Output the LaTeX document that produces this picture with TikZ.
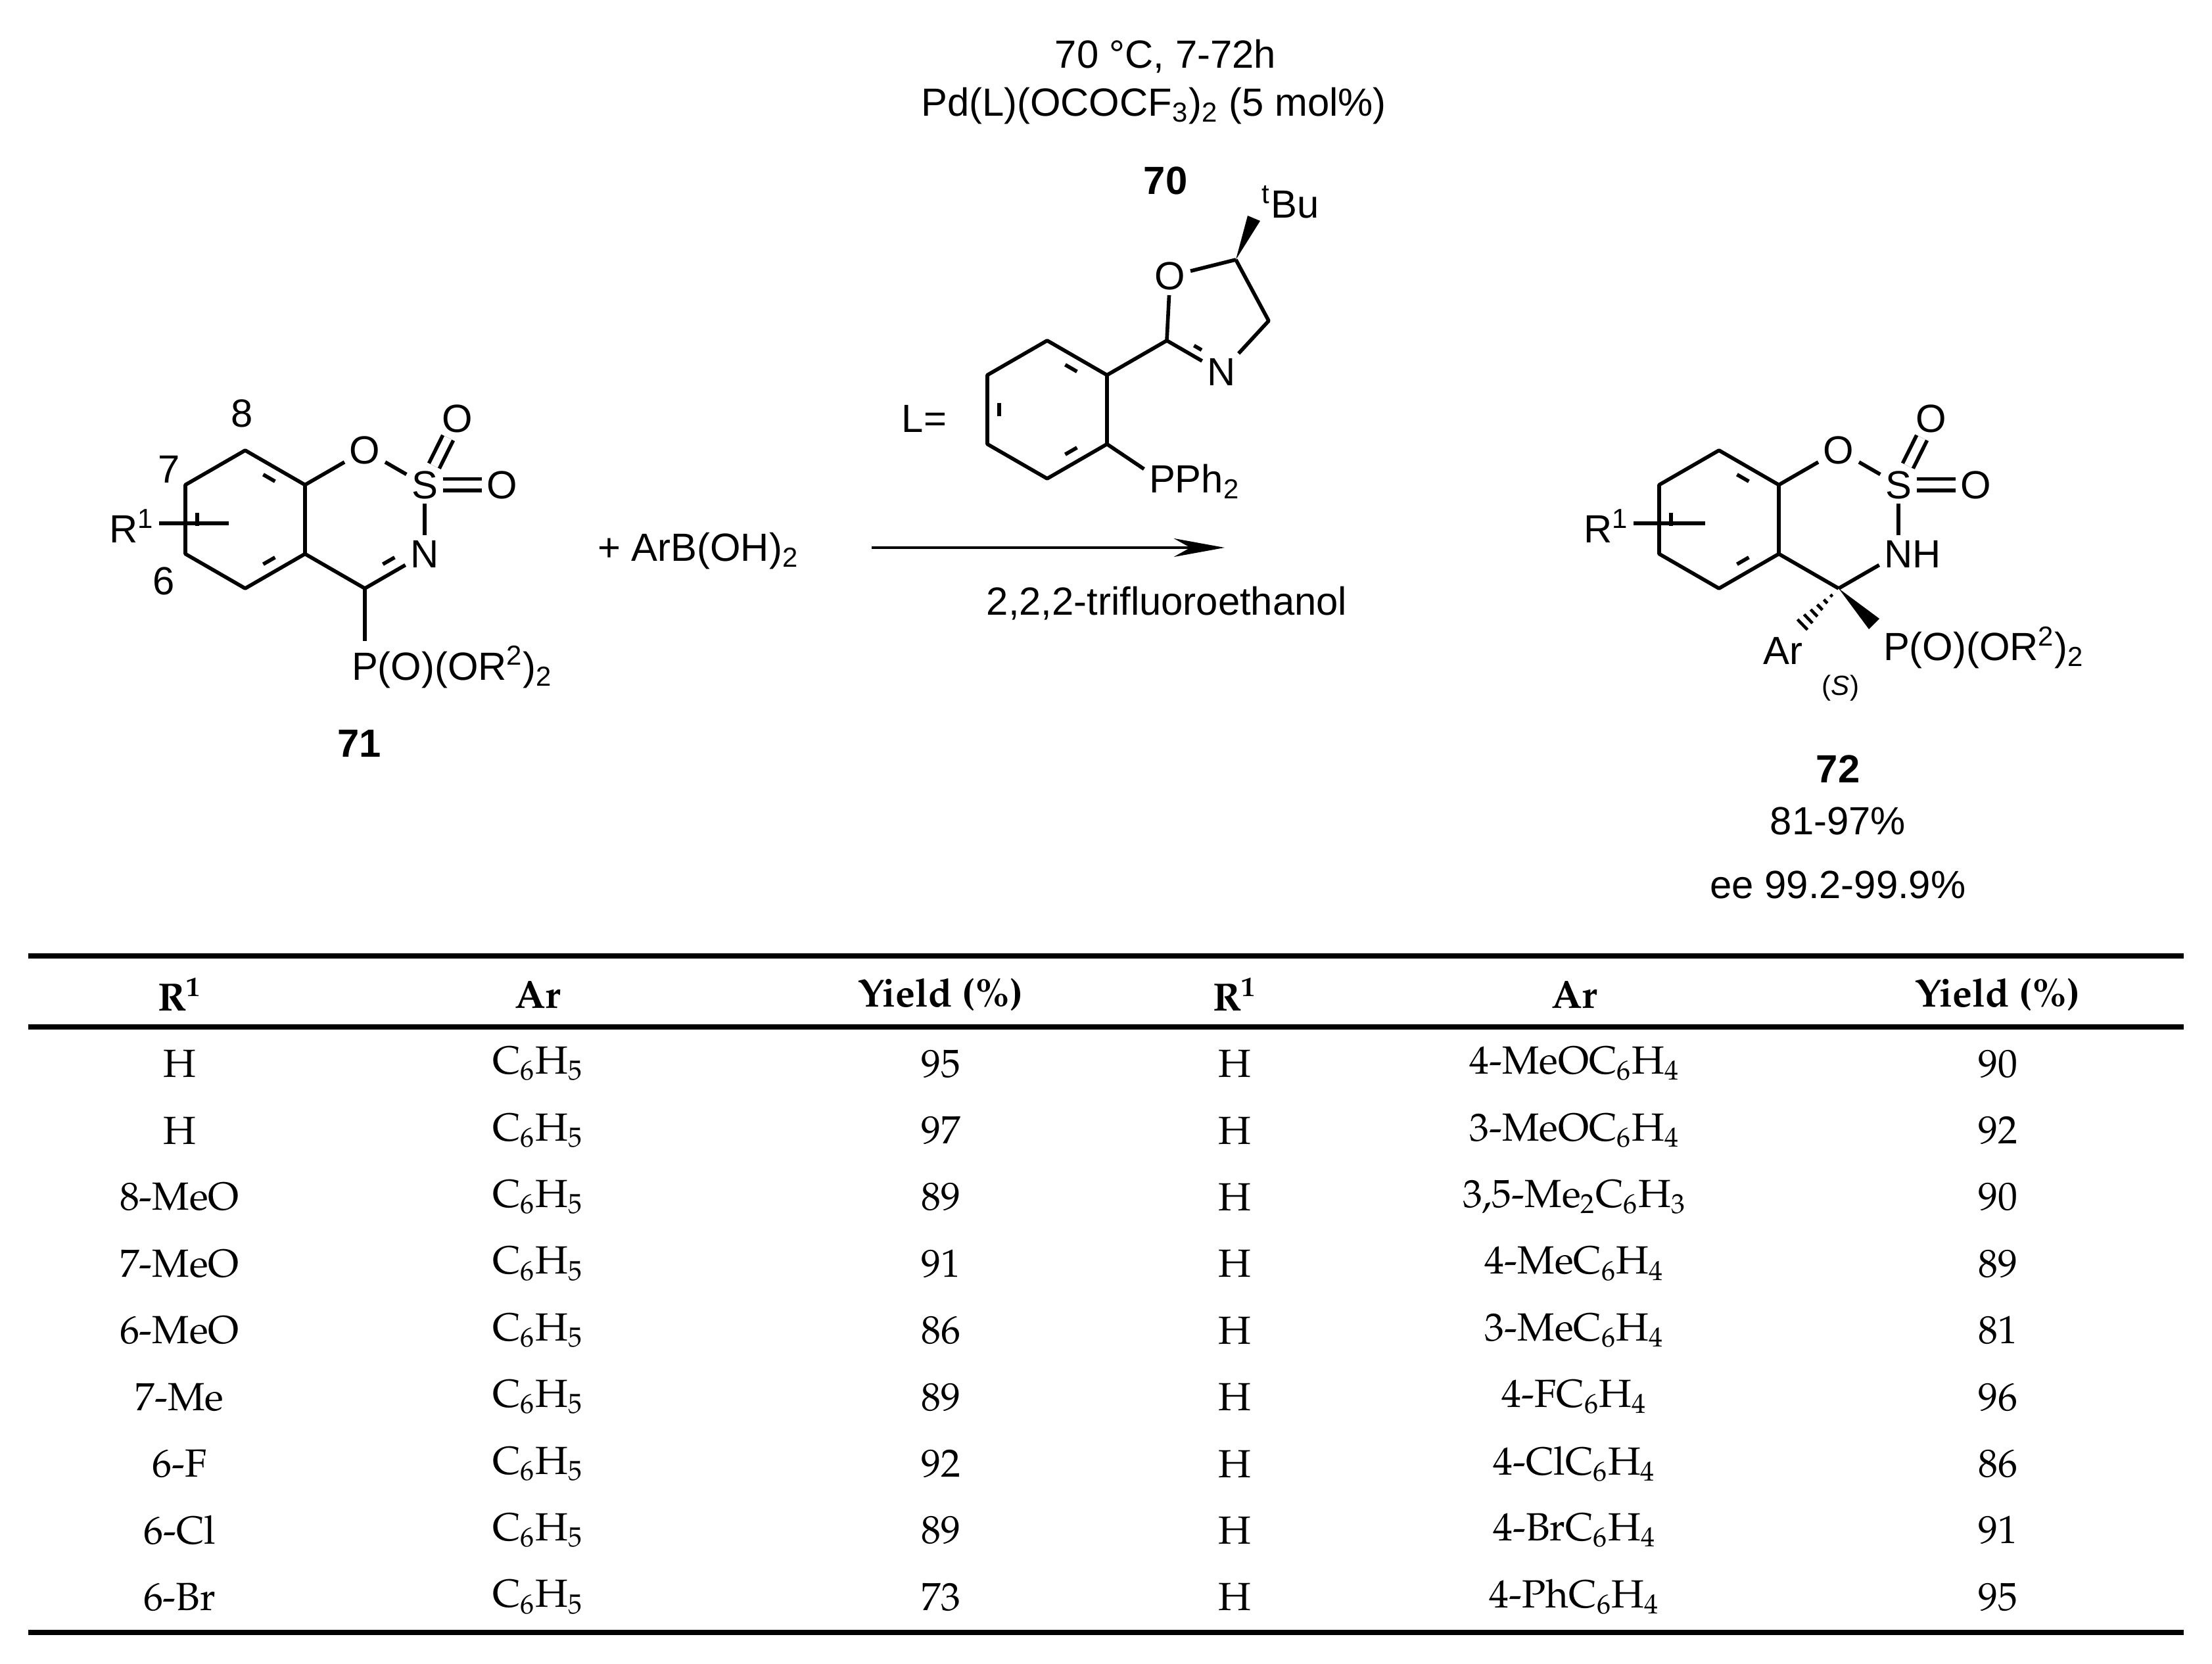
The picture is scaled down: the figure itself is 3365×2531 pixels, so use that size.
\documentclass[tikz,border=0pt]{standalone}
\usepackage[T1,TU]{fontenc}
\usepackage{fontspec}
\setmainfont{Liberation Sans}
\usetikzlibrary{calc,arrows.meta}
\newcommand{\palfont}{\fontencoding{T1}\fontfamily{ppl}\selectfont}
\newcommand{\dbl}[3]{\draw[bond,shorten <=9,shorten >=9] ($(#1)!0.2!(#3)$) -- ($(#2)!0.2!(#3)$);}
\tikzset{
  bond/.style={line width=1.6pt},
  atom/.style={inner sep=2pt,font=\fontsize{17pt}{20pt}\selectfont},
  txt/.style={font=\fontsize{17pt}{20pt}\selectfont},
  tab/.style={font=\palfont\fontsize{17pt}{20pt}\selectfont},
  tabh/.style={font=\palfont\bfseries\fontsize{17pt}{20pt}\selectfont},
  rule/.style={line width=2.2pt}
}
\begin{document}
\begin{tikzpicture}[x=0.01cm,y=-0.01cm]
\useasboundingbox (0,0) rectangle (3365,2531);
% ---------- compound 71 ----------
\coordinate (ac) at (373,790);
\coordinate (a1) at (373,685);
\coordinate (a2) at (464,737.5);
\coordinate (a3) at (464,842.5);
\coordinate (a4) at (373,895);
\coordinate (a5) at (282,842.5);
\coordinate (a6) at (282,737.5);
\coordinate (bc) at (555,790);
\coordinate (b4) at (555,895);
\coordinate (bn) at (646,842.5);
\node[atom] (ao) at (555,685) {O};
\node[atom] (as) at (646,737.5) {S};
\node[atom] (an) at (646,842.5) {N};
\node[atom] (ao2) at (696,637) {O};
\node[atom] (ao3) at (764,737.5) {O};
\node[atom,anchor=north] (ap) at (555,975) {P\rlap{(O)(OR\textsuperscript{2})\textsubscript{2}}};
\draw[bond,line join=round] (a1)--(a2)--(a3)--(a4)--(a5)--(a6)--cycle;
\dbl{a1}{a2}{ac}\dbl{a3}{a4}{ac}\dbl{a5}{a6}{ac}
\draw[bond] (a2)--(ao); \draw[bond] (ao)--(as); \draw[bond] (as)--(an);
\draw[bond] (an)--(b4); \draw[bond] (b4)--(a3); \draw[bond] (b4)--(ap);
\dbl{bn}{b4}{bc}
\draw[bond,double,double distance=0.12cm] (as)--(ao2);
\draw[bond,double,double distance=0.12cm] (as)--(ao3);
\node[atom,anchor=east] (ar1) at (242,800) {R\textsuperscript{1}};
\coordinate (ar1e) at (348,796);
\draw[bond] (ar1.east|-ar1e) -- (ar1e);
\node[txt] (l8) at (368,629) {8};
\node[txt] (l7) at (257,714) {7};
\node[txt] (l6) at (249,884) {6};
\node[txt,font=\bfseries\fontsize{17pt}{20pt}\selectfont] (n71) at (547,1131) {71};
% ---------- reagent ----------
\node[txt,anchor=west] (plus) at (897,838) {+ ArB(OH)\textsubscript{2}};
% ---------- arrow & conditions ----------
\coordinate (ar0) at (1326,833);
\coordinate (ar9) at (1863,833);
\draw[line width=1.2pt,-{Stealth[length=22pt,width=8pt]}] (ar0)--(ar9);
\node[txt] (c1) at (1773,86) {70 °C, 7-72h};
\node[txt] (c2) at (1755,161) {Pd(L)(OCOCF\textsubscript{3})\textsubscript{2} (5 mol\%)};
\node[txt,font=\bfseries\fontsize{17pt}{20pt}\selectfont] (n70) at (1773,275) {70};
\node[txt] (leq) at (1406,637) {L=};
\node[txt] (solv) at (1775,918) {2,2,2-trifluoroethanol};
% ---------- ligand ----------
\coordinate (lc) at (1593,623);
\coordinate (l1) at (1593,518);
\coordinate (l2) at (1684,570.5);
\coordinate (l3) at (1684,675.5);
\coordinate (l4) at (1593,728);
\coordinate (l5) at (1502,675.5);
\coordinate (l6) at (1502,570.5);
\coordinate (oc2) at (1775,518);
\coordinate (oc5) at (1880,395);
\coordinate (oc4) at (1930,488);
\coordinate (onn) at (1858,566);
\coordinate (opc) at (1845,477);
\node[atom] (lo) at (1780,420) {O};
\node[atom] (ln) at (1858,566) {N};
\node[atom] (lp) at (1768,732) {P\rlap{Ph\textsubscript{2}}};
\node[atom] (tbu) at (1963,307) {\textsuperscript{t}Bu};
\draw[bond,line join=round] (l1)--(l2)--(l3)--(l4)--(l5)--(l6)--cycle;
\dbl{l1}{l2}{lc}\dbl{l3}{l4}{lc}\dbl{l5}{l6}{lc}
\draw[bond] (l2)--(oc2); \draw[bond] (l3)--(lp);
\draw[bond] (oc2)--(lo); \draw[bond] (lo)--(oc5);
\draw[bond,line join=round] (oc5)--(oc4)--(ln); \draw[bond] (ln)--(oc2);
\dbl{oc2}{onn}{opc}
\fill (oc5) -- (1917,336) -- (1898,328) -- cycle;
% ---------- compound 72 ----------
\coordinate (cc) at (2615,790);
\coordinate (c1) at (2615,685);
\coordinate (c2) at (2706,737.5);
\coordinate (c3) at (2706,842.5);
\coordinate (c4) at (2615,895);
\coordinate (c5) at (2524,842.5);
\coordinate (c6) at (2524,737.5);
\coordinate (d4) at (2797,895);
\node[atom] (co) at (2797,685) {O};
\node[atom] (cs) at (2888,737.5) {S};
\node[atom] (cn) at (2888,842.5) {N\rlap{H}};
\node[atom] (co2) at (2938,637) {O};
\node[atom] (co3) at (3006,737.5) {O};
\node[atom] (cp) at (2885,985) {P\rlap{(O)(OR\textsuperscript{2})\textsubscript{2}}};
\node[atom] (car) at (2712,990) {Ar};
\node[txt,font=\fontsize{12pt}{14pt}\selectfont] (sl) at (2800,1047) {(\textit{S})};
\draw[bond,line join=round] (c1)--(c2)--(c3)--(c4)--(c5)--(c6)--cycle;
\dbl{c1}{c2}{cc}\dbl{c3}{c4}{cc}\dbl{c5}{c6}{cc}
\draw[bond] (c2)--(co); \draw[bond] (co)--(cs); \draw[bond] (cs)--(cn);
\draw[bond] (cn)--(d4); \draw[bond] (d4)--(c3);
\draw[bond,double,double distance=0.12cm] (cs)--(co2);
\draw[bond,double,double distance=0.12cm] (cs)--(co3);
\fill (d4) -- (2859,941) -- (2843,957) -- cycle;
\coordinate (hash) at (2742,950);
\foreach \t in {0.2,0.36,0.52,0.68,0.84,1.0}
  \draw[line width=1.3pt] ($(d4)!\t!(hash)+(7.6*\t,7.9*\t)$) -- ($(d4)!\t!(hash)-(7.6*\t,7.9*\t)$);
\node[atom,anchor=east] (cr1) at (2485,800) {R\textsuperscript{1}};
\coordinate (cr1e) at (2594,796);
\draw[bond] (cr1.east|-cr1e) -- (cr1e);
\node[txt,font=\bfseries\fontsize{17pt}{20pt}\selectfont] (n72) at (2796,1170) {72};
\node[txt] (yl) at (2796,1249) {81-97\%};
\node[txt] (ee) at (2796,1346) {ee 99.2-99.9\%};
% ---------- table ----------
\coordinate (t1a) at (43,1454); \coordinate (t1b) at (3322,1454);
\coordinate (t2a) at (43,1562); \coordinate (t2b) at (3322,1562);
\coordinate (t3a) at (43,2483); \coordinate (t3b) at (3322,2483);
\draw[rule] (t1a)--(t1b); \draw[rule] (t2a)--(t2b); \draw[rule] (t3a)--(t3b);
\foreach \x/\s [count=\i] in {273/R\textsuperscript{1},818/Ar,1431/Yield (\%),1878/R\textsuperscript{1},2395/Ar,3039/Yield (\%)}
  \node[tabh] (h\i) at (\x,1513) {\s};
\foreach \a/\b/\c/\d/\e/\f [count=\i from 0] in {
 H/C\textsubscript{6}H\textsubscript{5}/95/H/4-MeOC\textsubscript{6}H\textsubscript{4}/90,
 H/C\textsubscript{6}H\textsubscript{5}/97/H/3-MeOC\textsubscript{6}H\textsubscript{4}/92,
 8-MeO/C\textsubscript{6}H\textsubscript{5}/89/H/{3,5-Me\textsubscript{2}C\textsubscript{6}H\textsubscript{3}}/90,
 7-MeO/C\textsubscript{6}H\textsubscript{5}/91/H/4-MeC\textsubscript{6}H\textsubscript{4}/89,
 6-MeO/C\textsubscript{6}H\textsubscript{5}/86/H/3-MeC\textsubscript{6}H\textsubscript{4}/81,
 7-Me/C\textsubscript{6}H\textsubscript{5}/89/H/4-FC\textsubscript{6}H\textsubscript{4}/96,
 6-F/C\textsubscript{6}H\textsubscript{5}/92/H/4-ClC\textsubscript{6}H\textsubscript{4}/86,
 6-Cl/C\textsubscript{6}H\textsubscript{5}/89/H/4-BrC\textsubscript{6}H\textsubscript{4}/91,
 6-Br/C\textsubscript{6}H\textsubscript{5}/73/H/4-PhC\textsubscript{6}H\textsubscript{4}/95}
{
  \pgfmathsetmacro{\yy}{1618+101.4*\i}
  \node[tab] (ra\i) at (273,\yy) {\a};
  \node[tab] (rb\i) at (818,\yy) {\b};
  \node[tab] (rc\i) at (1431,\yy) {\c};
  \node[tab] (rd\i) at (1878,\yy) {\d};
  \node[tab] (re\i) at (2395,\yy) {\e};
  \node[tab] (rf\i) at (3039,\yy) {\f};
}
\end{tikzpicture}
\end{document}
